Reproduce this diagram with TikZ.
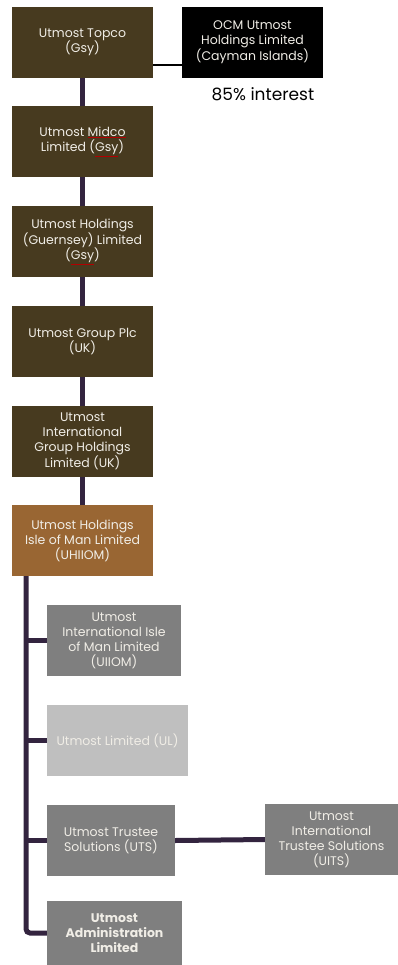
\documentclass[tikz,border=0pt]{standalone}
\usepackage{fontspec}
\setmainfont{Poppins}
\definecolor{brownbox}{HTML}{473A1F}
\definecolor{orangebox}{HTML}{996633}
\definecolor{graybox}{HTML}{7F7F7F}
\definecolor{lightbox}{HTML}{BFBFBF}
\definecolor{linec}{HTML}{33243F}
\definecolor{textc}{HTML}{F0EDE6}
\newcommand\spellmark[1]{{\color{red!70!black}$\underline{\hbox{\textcolor{textc}{#1}}}$}}
\tikzset{
  box/.style={rectangle, inner sep=0pt, minimum width=141pt, minimum height=71pt,
    align=center, text=textc, font=\fontsize{12.5}{15}\selectfont},
  brownb/.style={box, fill=brownbox},
  grayb/.style={box, fill=graybox},
  trunk/.style={draw=linec, line width=5pt},
}
\begin{document}
\begin{tikzpicture}[x=1pt, y=-1pt]
\useasboundingbox (0,0) rectangle (398,965);
\node[brownb] (topco) at (82.5,42.5) {Utmost Topco\\(Gsy)};
\node[box, fill=black] (ocm) at (252.5,42.5) {OCM Utmost\\Holdings Limited\\(Cayman Islands)};
\node[font=\fontsize{17}{20}\selectfont, text=black, inner sep=0pt] (interest) at (263,94) {85\% interest};
\node[brownb] (midco) at (82.5,141.5) {Utmost \spellmark{Midco}\\Limited (\spellmark{Gsy})};
\node[brownb] (guern) at (82.5,241.5) {Utmost Holdings\\(Guernsey) Limited\\(\spellmark{Gsy})};
\node[brownb] (plc) at (82.5,341.5) {Utmost Group Plc\\(UK)};
\node[brownb] (uigh) at (82.5,441.5) {Utmost\\International\\Group Holdings\\Limited (UK)};
\node[box, fill=orangebox] (uhiiom) at (82.5,540.5) {Utmost Holdings\\Isle of Man Limited\\(UHIIOM)};
\node[grayb, minimum width=134pt] (uiiom) at (114,640.5) {Utmost\\International Isle\\of Man Limited\\(UIIOM)};
\node[box, fill=lightbox, minimum width=141pt] (ul) at (117.5,740.5) {Utmost Limited (UL)};
\node[grayb, minimum width=128pt] (uts) at (111,840.5) {Utmost Trustee\\Solutions (UTS)};
\node[grayb, minimum width=133pt] (uits) at (331.5,839.5) {Utmost\\International\\Trustee Solutions\\(UITS)};
\node[grayb, minimum width=135pt, minimum height=64pt, font=\fontsize{12.5}{15}\selectfont\bfseries] (admin) at (114.5,933) {Utmost\\Administration\\Limited};

\draw[black, line width=1.5pt] ([yshift=-22.5pt]topco.east) -- ([yshift=-22.5pt]ocm.west);
\foreach \a/\b in {topco/midco, midco/guern, guern/plc, plc/uigh, uigh/uhiiom}
  \draw[trunk] (\a.south) -- (\b.north);
\coordinate (trunktop) at ([xshift=-56.5pt]uhiiom.south);
\draw[trunk, rounded corners=4pt] (trunktop) |- (admin.west);
\draw[trunk] (trunktop |- uiiom.west) -- (uiiom.west);
\draw[trunk] (trunktop |- ul.west) -- (ul.west);
\draw[trunk] (trunktop |- uts.west) -- (uts.west);
\draw[trunk] (uts.east) -- (uits.west);
\end{tikzpicture}
\end{document}
